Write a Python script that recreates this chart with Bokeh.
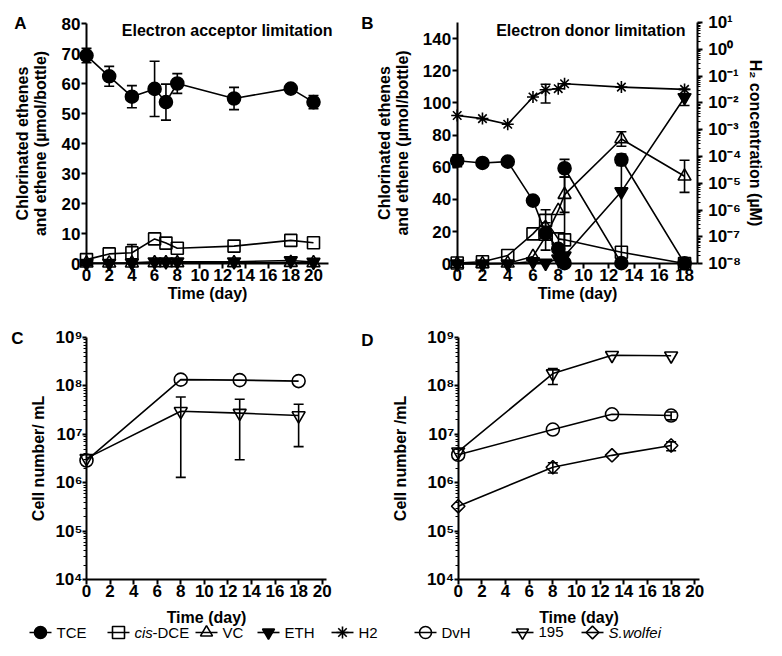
import numpy as np
from bokeh.plotting import figure
from bokeh.models import (Range1d, LinearAxis, LogAxis, FixedTicker, Whisker, TeeHead,
                          ColumnDataSource, Label, CustomJSTickFormatter, LogScale)
from bokeh.layouts import column, row
from bokeh.embed import file_html
from bokeh.resources import INLINE
from bokeh.core.properties import value

FONT = "Liberation Sans"

# ---------------- Panel A : electron acceptor limitation ----------------
a_days = [0, 2, 4, 6, 7, 8, 13, 18, 20]
a_tce = [69.3, 62.4, 55.6, 58.2, 53.8, 60.0, 55.0, 58.3, 53.8]
a_tce_err = [2.4, 3.3, 3.7, 9.2, 6.0, 3.3, 3.7, 0.0, 2.2]
a_dce = [1.3, 3.2, 3.6, 8.2, 6.8, 5.1, 5.8, 7.7, 6.9]
a_dce_err = [0.0, 0.0, 2.7, 0.0, 0.0, 0.0, 0.0, 0.0, 0.0]
a_vc = [0.1, 0.1, 0.1, 0.2, 0.2, 0.2, 0.2, 0.3, 0.2]
a_eth = [0.1, 0.1, 0.2, 0.6, 0.6, 0.6, 0.6, 1.0, 0.5]
a_xticks = [0, 2, 4, 6, 8, 10, 12, 14, 16, 18, 20]
a_yticks = [0, 10, 20, 30, 40, 50, 60, 70, 80]

# ---------------- Panel B : electron donor limitation ----------------
b_tce_days = [0, 2, 4, 6, 7, 8, 8.5, 8.5, 13, 13, 18]
b_tce = [64.1, 62.7, 63.5, 39.3, 19.0, 9.3, 0.4, 59.4, 0.4, 64.7, 0.3]
b_tce_err = [3.7, 2.5, 0.0, 0.0, 0.0, 0.0, 0.0, 5.5, 0.0, 3.6, 0.0]
b_days = [0, 2, 4, 6, 7, 8, 8.5, 13, 18]
b_dce = [0.5, 1.3, 5.2, 18.6, 27.0, 15.5, 14.9, 7.2, 0.2]
b_dce_err = [0.0, 0.0, 0.0, 0.0, 6.6, 0.0, 0.0, 0.0, 0.0]
b_vc = [0.0, 0.0, 0.3, 4.5, 17.0, 33.0, 43.0, 77.6, 54.4]
b_vc_err = [0.0, 0.0, 0.0, 0.0, 8.5, 0.0, 11.0, 4.5, 10.0]
b_eth = [0.0, 0.0, 0.0, 1.4, 0.4, 3.1, 5.0, 44.9, 103.4]
b_eth_err = [0.0, 0.0, 0.0, 0.0, 0.0, 0.0, 0.0, 0.0, 5.0]
b_h2 = [3.4e-3, 2.6e-3, 1.6e-3, 1.66e-2, 3.1e-2, 3.4e-2, 5.2e-2, 3.9e-2, 3.2e-2]
b_h2_err_day = [7]
b_h2_lower = [1.0e-2]
b_h2_upper = [5.0e-2]
b_xticks = [0, 2, 4, 6, 8, 10, 12, 14, 16, 18]
b_yticks = [0, 20, 40, 60, 80, 100, 120, 140]
b_h2_ticks = [1e-8, 1e-7, 1e-6, 1e-5, 1e-4, 1e-3, 1e-2, 1e-1, 1e0, 1e1]

# ---------------- Panels C and D : cell numbers ----------------
cell_days = [0, 8, 13, 18]
c_dvh = [2.9e6, 1.35e8, 1.32e8, 1.26e8]
c_195 = [3.2e6, 3.0e7, 2.75e7, 2.45e7]
c_195_err_days = [8, 13, 18]
c_195_lower = [1.3e6, 3.0e6, 5.6e6]
c_195_upper = [5.9e7, 5.3e7, 4.2e7]

d_195 = [4.4e6, 1.8e8, 4.3e8, 4.2e8]
d_195_err_days = [8]
d_195_lower = [1.07e8]
d_195_upper = [2.3e8]
d_dvh = [3.8e6, 1.26e7, 2.6e7, 2.45e7]
d_dvh_err_days = [18]
d_dvh_lower = [2.0e7]
d_dvh_upper = [2.9e7]
d_sw = [3.3e5, 2.1e6, 3.7e6, 5.9e6]
d_sw_err_days = [8, 18]
d_sw_lower = [1.6e6, 4.6e6]
d_sw_upper = [2.6e6, 7.0e6]
cell_xticks = [0, 2, 4, 6, 8, 10, 12, 14, 16, 18, 20]
cell_yticks = [1e4, 1e5, 1e6, 1e7, 1e8, 1e9]

# ---------------- Legend ----------------
legend_names = ["TCE", "cis-DCE", "VC", "ETH", "H2", "DvH", "195", "S.wolfei"]
legend_markers = ["circle", "square", "triangle", "inverted_triangle", "asterisk",
                  "circle", "inverted_triangle", "diamond"]
legend_filled = [True, False, False, True, False, False, False, False]
legend_px = [40, 118, 206, 268, 342, 425, 522, 592]   # marker centres (layout pixels)
legend_py = 632

SUP = r"""
const sup = {"-": "\u207B", "0": "\u2070", "1": "\u00B9", "2": "\u00B2", "3": "\u00B3",
             "4": "\u2074", "5": "\u2075", "6": "\u2076", "7": "\u2077", "8": "\u2078", "9": "\u2079"};
const e = Math.round(Math.log10(tick));
return "10" + String(e).split("").map(c => sup[c]).join("");
"""


def base_fig(w, h, xr, yr, ylog):
    p = figure(width=w, height=h, x_range=Range1d(*xr), y_range=Range1d(*yr),
               y_axis_type="log" if ylog else "linear",
               x_axis_location=None, y_axis_location=None,
               toolbar_location=None, output_backend="svg", tools="", min_border=0)
    p.outline_line_color = None
    p.xgrid.visible = False
    p.ygrid.visible = False
    p.background_fill_color = "white"
    p.border_fill_color = "white"
    return p


def style_axis(ax, label_standoff, tick_standoff=1, tick_out=5):
    ax.axis_line_width = 2
    ax.axis_line_color = "black"
    ax.major_tick_line_width = 2
    ax.major_tick_line_color = "black"
    ax.major_tick_out = tick_out
    ax.major_tick_in = 0
    ax.minor_tick_line_width = 1.2
    ax.minor_tick_line_color = "black"
    ax.minor_tick_out = 3
    ax.minor_tick_in = 0
    ax.major_label_text_font = FONT
    ax.major_label_text_font_style = "bold"
    ax.major_label_text_font_size = "17px"
    ax.major_label_text_color = "black"
    ax.major_label_standoff = tick_standoff
    ax.axis_label_text_font = FONT
    ax.axis_label_text_font_style = "bold"
    ax.axis_label_text_font_size = "16px"
    ax.axis_label_text_color = "black"
    ax.axis_label_text_line_height = 1.05
    ax.axis_label_standoff = label_standoff


def series(p, x, y, marker, filled, size=13, range_name=None, angle=0.0):
    kw = {} if range_name is None else {"y_range_name": range_name}
    p.line(x, y, line_width=1.6, line_color="black", **kw)
    p.scatter(x, y, marker=marker, size=size, angle=angle, line_color="black", line_width=1.6,
              fill_color="black" if filled else None, **kw)


def whisk(p, x, lo, up, range_name=None):
    src = ColumnDataSource(dict(base=x, lower=lo, upper=up))
    w = Whisker(source=src, base="base", lower="lower", upper="upper",
                line_width=1.6, line_color="black",
                upper_head=TeeHead(size=10, line_width=1.6, line_color="black"),
                lower_head=TeeHead(size=10, line_width=1.6, line_color="black"))
    if range_name is not None:
        w.y_range_name = range_name
    p.add_layout(w)


def sym_whisk(p, x, y, err):
    xs = [xi for xi, e in zip(x, err) if e > 0]
    lo = [yi - e for yi, e in zip(y, err) if e > 0]
    up = [yi + e for yi, e in zip(y, err) if e > 0]
    whisk(p, xs, lo, up)


def text_label(p, x, y, text, size="17px", align="center"):
    p.add_layout(Label(x=x, y=y, text=text, text_font=FONT, text_font_style="bold",
                       text_font_size=size, text_align=align, text_baseline="middle",
                       text_color="black"))


# ================= Panel A  (layout pixels: day 0 at x=86, 11.35 px/day; 0 at y=263, 3 px/unit) =================
pA = base_fig(358, 318, (-7.577, 23.965), (-18.333, 87.667), False)
axA = LinearAxis(fixed_location=0, ticker=FixedTicker(ticks=a_xticks, minor_ticks=[]),
                 bounds=(0, 21.3), axis_label="Time (day)")
style_axis(axA, 1, tick_standoff=0)
pA.add_layout(axA, "below")
ayA = LinearAxis(fixed_location=0, ticker=FixedTicker(ticks=a_yticks, minor_ticks=[]),
                 bounds=(0, 80), axis_label="Chlorinated ethenes\nand ethene (\u00b5mol/bottle)")
style_axis(ayA, 10)
pA.add_layout(ayA, "left")
sym_whisk(pA, a_days, a_tce, a_tce_err)
sym_whisk(pA, a_days, a_dce, a_dce_err)
series(pA, a_days, a_vc, "triangle", False)
series(pA, a_days, a_eth, "inverted_triangle", True)
series(pA, a_days, a_dce, "square", False, size=12)
series(pA, a_days, a_tce, "circle", True)
text_label(pA, -5.815, 80, "A")
text_label(pA, 21.674, 77.67, "Electron acceptor limitation", size="16px", align="right")

# ================= Panel B  (day 0 at x=456.7, 12.63 px/day; 0 at y=263.3, 1.6087 px/unit) =================
pB = base_fig(408, 318, (-7.815, 24.489), (-34.0, 163.676), False)
pB.extra_y_ranges = {"h2": Range1d(10 ** -10.04, 10 ** 1.8206)}
pB.extra_y_scales = {"h2": LogScale()}
axB = LinearAxis(fixed_location=0, ticker=FixedTicker(ticks=b_xticks, minor_ticks=[]),
                 bounds=(0, 19), axis_label="Time (day)")
style_axis(axB, 1, tick_standoff=0)
pB.add_layout(axB, "below")
ayB = LinearAxis(fixed_location=0, ticker=FixedTicker(ticks=b_yticks, minor_ticks=[]),
                 bounds=(0, 150), axis_label="Chlorinated ethenes\nand ethene (\u00b5mol/bottle)")
style_axis(ayB, 9)
pB.add_layout(ayB, "left")
h2_minor = [m * 10.0 ** k for k in range(-8, 1) for m in range(2, 10)]
ryB = LogAxis(y_range_name="h2", fixed_location=19,
              ticker=FixedTicker(ticks=b_h2_ticks, minor_ticks=h2_minor),
              formatter=CustomJSTickFormatter(code=SUP),
              bounds=(1e-8, 10), axis_label="H\u2082 concentration (\u00b5M)")
style_axis(ryB, 2, tick_standoff=6)
pB.add_layout(ryB, "right")
sym_whisk(pB, b_tce_days, b_tce, b_tce_err)
sym_whisk(pB, b_days, b_dce, b_dce_err)
sym_whisk(pB, b_days, b_vc, b_vc_err)
sym_whisk(pB, b_days, b_eth, b_eth_err)
whisk(pB, b_h2_err_day, b_h2_lower, b_h2_upper, range_name="h2")
series(pB, b_days, b_h2, "asterisk", False, size=12, range_name="h2")
series(pB, b_days, b_vc, "triangle", False)
series(pB, b_days, b_eth, "inverted_triangle", True)
series(pB, b_days, b_dce, "square", False, size=12)
series(pB, b_tce_days, b_tce, "circle", True)
text_label(pB, -7.102, 149.4, "B")
text_label(pB, 18.076, 145.3, "Electron donor limitation", size="16px", align="right")


# ================= Panels C and D =================
def cell_fig(xr, label, ylabel_standoff):
    p = base_fig(383, 322, xr, (10 ** 2.7473, 10 ** 9.392), True)
    ax = LinearAxis(fixed_location=1e4, ticker=FixedTicker(ticks=cell_xticks, minor_ticks=[]),
                    bounds=(0, 20.4), axis_label="Time (day)")
    style_axis(ax, 9, tick_standoff=0)
    p.add_layout(ax, "below")
    minor = [m * 10.0 ** k for k in range(4, 9) for m in range(2, 10)]
    ay = LogAxis(fixed_location=0, ticker=FixedTicker(ticks=cell_yticks, minor_ticks=minor),
                 formatter=CustomJSTickFormatter(code=SUP), bounds=(1e4, 1e9),
                 axis_label=label)
    style_axis(ay, ylabel_standoff, tick_standoff=0, tick_out=4)
    p.add_layout(ay, "left")
    return p


def c_x(px):
    return (px - 86) / 11.785


def d_x(px):
    return (px - 457.7) / 11.83


def cd_y(py):
    return 10 ** (9 - (py - 337) / 48.46)


pC = cell_fig((-7.297, 25.202), "Cell number/ mL", 5)
whisk(pC, c_195_err_days, c_195_lower, c_195_upper)
series(pC, cell_days, c_195, "inverted_triangle", False)
series(pC, cell_days, c_dvh, "circle", False)
text_label(pC, c_x(17), cd_y(338), "C")
text_label(pC, c_x(367), cd_y(340), "D")

pD = cell_fig((-6.315, 26.061), "Cell number /mL", 15)
whisk(pD, d_195_err_days, d_195_lower, d_195_upper)
whisk(pD, d_dvh_err_days, d_dvh_lower, d_dvh_upper)
whisk(pD, d_sw_err_days, d_sw_lower, d_sw_upper)
series(pD, cell_days, d_195, "inverted_triangle", False)
series(pD, cell_days, d_dvh, "circle", False)
series(pD, cell_days, d_sw, "square", False, size=9.5, angle=np.pi / 4)

# ================= Legend (drawn across the bottom of panels C and D) =================
for name, mk, filled, mx in zip(legend_names, legend_markers, legend_filled, legend_px):
    p, fx = (pC, c_x) if mx < 383 else (pD, d_x)
    ly = cd_y(legend_py)
    p.segment(x0=[fx(mx - 11)], y0=[ly], x1=[fx(mx + 11)], y1=[ly], line_width=1.6, line_color="black")
    size, angle = 12, 0.0
    if mk == "diamond":
        mk, size, angle = "square", 9, np.pi / 4
    p.scatter([fx(mx)], [ly], marker=mk, size=size, angle=angle, line_color="black",
              line_width=1.6, fill_color="black" if filled else None)
    tx = mx + 16
    common = dict(text_font=value(FONT), text_font_size=value("15px"), text_baseline="middle",
                  text_align="left", text_color="black")
    if name == "cis-DCE":
        p.text([fx(tx)], [ly], text=["cis"], text_font_style="italic", **common)
        p.text([fx(tx + 18)], [ly], text=["-DCE"], **common)
    else:
        style = "italic" if name == "S.wolfei" else "normal"
        p.text([fx(tx)], [ly], text=[name], text_font_style=style, **common)

layout = column(row(pA, pB), row(pC, pD))
open("out.html", "w").write(file_html(layout, INLINE))
